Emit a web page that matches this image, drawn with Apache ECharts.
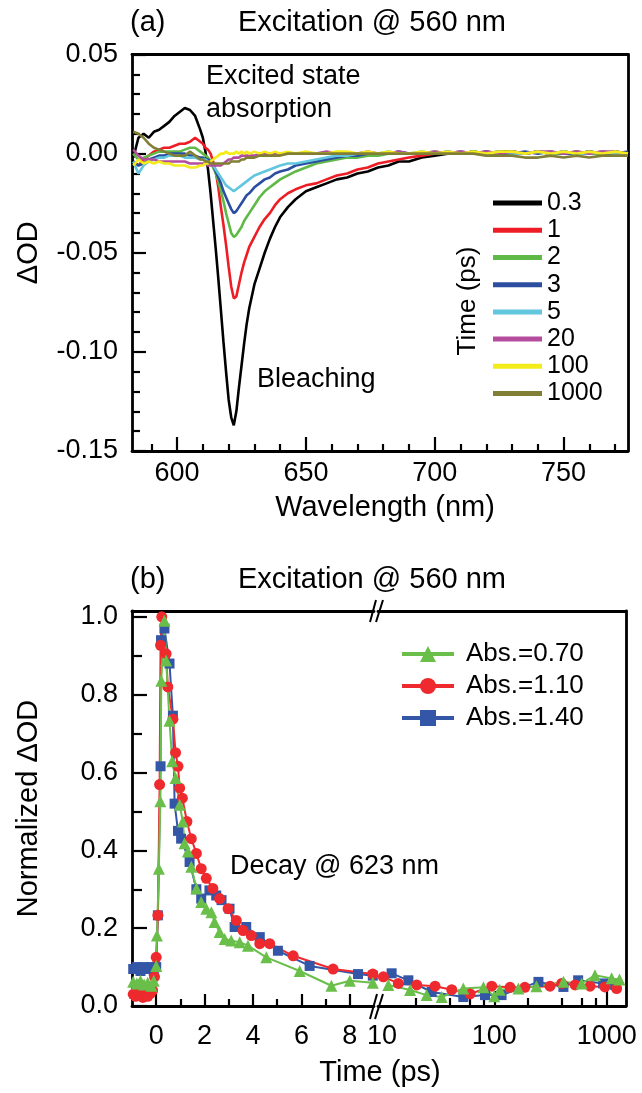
<!DOCTYPE html>
<html><head><meta charset="utf-8">
<script src="https://cdn.jsdelivr.net/npm/echarts@6/dist/echarts.min.js"></script>
<style>html,body{margin:0;padding:0;background:#fff}#c{width:642px;height:1093px}</style>
</head><body><div id="c"></div>
<script>
// ---------------- DATA: panel (a) transient spectra ----------------
const wavelengths = [583,585,587,589,591,593,595,597,599,601,603,605,607,609,
  610,611,612,613,614,615,616,617,618,619,620,621,622,623,624,625,626,627,628,
  630,632,634,636,638,640,643,646,650,654,658,662,666,670,674,678,682,686,690,
  695,700,705,710,715,720,725,730,735,740,745,750,755,760,765,770,775];
const timeLabels = ['0.3','1','2','3','5','20','100','1000'];
const od_0p3 = [-0.002,0.008,0.010,0.008,0.011,0.012,0.014,0.016,0.019,0.021,0.023,0.022,0.019,0.012,
  0.008,0.001,-0.008,-0.020,-0.034,-0.048,-0.063,-0.079,-0.095,-0.110,-0.124,-0.133,-0.137,-0.130,-0.118,-0.107,-0.096,-0.086,-0.078,
  -0.066,-0.058,-0.050,-0.043,-0.037,-0.032,-0.027,-0.023,-0.019,-0.017,-0.015,-0.013,-0.012,-0.010,-0.009,-0.007,-0.006,-0.004,-0.004,
  -0.002,-0.001,0.000,0.000,0.001,0.000,0.001,0.001,0.000,0.001,0.000,0.001,0.000,0.001,0.000,0.001,0.000];
const od_1 = [-0.004,-0.006,-0.003,-0.001,0.001,0.002,0.003,0.003,0.004,0.005,0.005,0.006,0.008,0.006,
  0.005,0.003,0.002,0.000,-0.004,-0.009,-0.017,-0.027,-0.036,-0.046,-0.057,-0.067,-0.073,-0.072,-0.066,-0.060,-0.055,-0.051,-0.047,
  -0.042,-0.037,-0.033,-0.030,-0.026,-0.023,-0.020,-0.018,-0.016,-0.015,-0.013,-0.011,-0.010,-0.008,-0.007,-0.005,-0.004,-0.003,-0.002,
  -0.001,0.000,0.000,0.001,0.000,0.001,0.000,0.001,0.000,0.001,0.000,0.000,0.001,0.000,0.001,0.000,0.000];
const od_2 = [0.000,-0.003,-0.002,-0.001,0.000,0.001,0.001,0.001,0.001,0.001,0.002,0.003,0.003,0.001,
  0.000,-0.001,-0.002,-0.004,-0.007,-0.010,-0.014,-0.019,-0.024,-0.030,-0.035,-0.040,-0.042,-0.041,-0.039,-0.037,-0.034,-0.032,-0.030,
  -0.026,-0.022,-0.019,-0.017,-0.015,-0.013,-0.011,-0.009,-0.007,-0.005,-0.004,-0.003,-0.002,-0.002,-0.001,-0.001,0.000,0.000,0.000,
  0.000,0.001,0.000,0.000,0.001,0.000,0.000,0.001,0.000,0.001,0.000,0.000,0.001,0.000,0.000,0.001,0.000];
const od_3 = [-0.004,-0.006,-0.005,-0.003,-0.002,-0.001,-0.001,0.000,0.000,0.000,0.000,-0.001,-0.001,-0.002,
  -0.002,-0.003,-0.003,-0.004,-0.006,-0.009,-0.012,-0.015,-0.019,-0.022,-0.025,-0.028,-0.030,-0.029,-0.027,-0.025,-0.023,-0.021,-0.020,
  -0.017,-0.015,-0.013,-0.012,-0.010,-0.009,-0.008,-0.006,-0.005,-0.004,-0.003,-0.002,-0.001,-0.001,0.000,0.000,0.000,0.001,0.000,
  0.000,0.000,0.001,0.000,0.000,0.001,0.000,0.000,0.001,0.000,0.001,0.000,0.000,0.001,0.000,0.000,0.001];
const od_5 = [-0.004,-0.010,-0.006,-0.004,-0.003,-0.002,-0.002,-0.001,-0.001,-0.001,-0.002,-0.002,-0.002,-0.003,
  -0.003,-0.003,-0.004,-0.005,-0.006,-0.008,-0.010,-0.012,-0.014,-0.016,-0.017,-0.018,-0.019,-0.018,-0.017,-0.016,-0.015,-0.014,-0.013,
  -0.011,-0.010,-0.009,-0.008,-0.007,-0.006,-0.005,-0.005,-0.004,-0.003,-0.002,-0.001,-0.001,0.000,0.000,0.000,0.001,0.000,0.000,
  0.001,0.000,0.000,0.001,0.000,0.000,0.001,0.000,0.000,0.001,0.000,0.001,0.000,0.000,0.001,0.000,0.000];
const od_20 = [0.002,-0.001,-0.003,-0.003,-0.003,-0.004,-0.004,-0.004,-0.004,-0.004,-0.004,-0.005,-0.005,-0.005,
  -0.005,-0.005,-0.006,-0.006,-0.006,-0.006,-0.006,-0.006,-0.005,-0.004,-0.003,-0.003,-0.002,-0.002,-0.002,-0.001,-0.001,-0.001,-0.001,
  -0.001,0.000,0.000,0.000,0.000,0.000,0.000,0.000,0.000,0.000,0.001,0.000,0.000,0.000,0.001,0.000,0.000,0.001,0.000,
  0.000,0.001,0.000,0.001,0.000,0.001,0.000,0.001,0.000,0.001,0.001,0.000,0.001,0.000,0.001,0.001,0.000];
const od_100 = [-0.006,-0.003,-0.005,-0.004,-0.005,-0.004,-0.005,-0.005,-0.006,-0.006,-0.006,-0.007,-0.007,-0.006,
  -0.006,-0.005,-0.005,-0.004,-0.003,-0.002,-0.001,0.000,0.000,0.001,0.000,0.000,0.000,0.001,0.000,0.001,0.000,0.001,0.000,
  0.001,0.000,0.001,0.000,0.001,0.000,0.001,0.000,0.001,0.000,0.000,0.001,0.001,0.000,0.001,0.000,0.001,0.000,0.000,
  0.001,0.000,0.001,0.000,0.001,0.000,0.001,0.001,0.000,0.001,0.000,0.001,0.000,0.001,0.000,0.001,0.000];
const od_1000 = [0.011,0.010,0.008,0.005,0.003,0.002,0.001,0.000,-0.001,-0.001,-0.001,0.001,-0.001,-0.003,
  -0.003,-0.004,-0.004,-0.005,-0.005,-0.005,-0.005,-0.005,-0.005,-0.005,-0.005,-0.004,-0.004,-0.004,-0.004,-0.003,-0.003,-0.002,-0.002,
  -0.002,-0.001,-0.001,-0.001,-0.001,-0.001,0.000,0.000,0.000,0.000,0.000,0.000,0.000,0.000,0.000,0.000,0.000,0.000,0.000,
  0.000,0.000,0.000,0.000,0.000,-0.001,-0.001,-0.001,-0.002,-0.002,-0.001,-0.002,-0.001,-0.002,-0.001,-0.001,-0.001];
const wlMajorTicks = [600,650,700,750];
const wlMinorTicks = [590,610,620,630,640,660,670,680,690,710,720,730,740,760,770];
const odMajorTicks = [-0.15,-0.10,-0.05,0.00,0.05];
const odMinorTicks = [-0.14,-0.13,-0.12,-0.11,-0.09,-0.08,-0.07,-0.06,-0.04,-0.03,-0.02,-0.01,0.01,0.02,0.03,0.04];

// ---------------- DATA: panel (b) decay at 623 nm ----------------
const absLabels = ['Abs.=0.70','Abs.=1.10','Abs.=1.40'];
const t_070 = [-0.95,-0.8,-0.65,-0.5,-0.35,-0.2,-0.1,0,0.03,0.11,0.17,0.21,0.34,0.41,0.55,0.66,0.8,0.97,1.1,1.17,1.31,1.45,1.66,1.86,2.07,2.28,2.41,2.62,2.83,3.1,3.45,3.79,4.55,5.93,7.24,8.0,8.95,
  11.4,17.8,25,34,53,80,100,112,164,237,412,598,786,1106,1300];
const v_070 = [0.062,0.058,0.065,0.055,0.06,0.052,0.065,0.103,0.181,0.353,0.526,0.836,0.99,0.888,0.733,0.629,0.586,0.517,0.474,0.418,0.397,0.358,0.302,0.267,0.25,0.241,0.216,0.19,0.172,0.168,0.164,0.155,0.125,0.09,0.052,0.065,0.06,
  0.054,0.041,0.028,0.023,0.045,0.048,0.025,0.042,0.045,0.051,0.062,0.058,0.079,0.071,0.068];
const t_110 = [-0.95,-0.85,-0.75,-0.65,-0.55,-0.45,-0.35,-0.25,-0.15,-0.07,0,0.07,0.14,0.18,0.23,0.41,0.48,0.69,0.8,0.9,0.97,1.08,1.27,1.45,1.66,1.86,2.07,2.34,2.62,2.97,3.31,3.59,3.93,4.28,4.69,5.66,7.31,8.95,
  10.3,14,20.4,29.7,41.8,60.9,94.9,138,187,313,398,523,711,964,1225];
const v_110 = [0.03,0.025,0.035,0.028,0.022,0.03,0.025,0.032,0.04,0.075,0.125,0.233,0.569,0.927,1.0,0.905,0.82,0.737,0.651,0.616,0.56,0.534,0.474,0.43,0.392,0.353,0.328,0.302,0.276,0.25,0.22,0.194,0.181,0.16,0.16,0.129,0.095,0.082,
  0.075,0.058,0.054,0.051,0.042,0.031,0.051,0.048,0.048,0.051,0.058,0.054,0.051,0.049,0.045];
const t_140 = [-0.95,-0.8,-0.65,-0.5,-0.35,-0.2,-0.1,0,0.07,0.18,0.2,0.34,0.55,0.69,0.76,0.9,1.03,1.38,1.66,1.86,2.2,2.48,2.7,3.03,3.24,3.72,4.28,5.03,6.34,8.34,8.95,
  12.2,17.2,27.7,53,82.6,116,247,412,557,930,1190];
const v_140 = [0.095,0.1,0.09,0.1,0.095,0.1,0.09,0.1,0.233,0.616,0.94,0.97,0.88,0.746,0.52,0.45,0.43,0.37,0.3,0.276,0.297,0.284,0.272,0.25,0.203,0.203,0.177,0.142,0.103,0.082,0.078,
  0.084,0.066,0.036,0.023,0.028,0.028,0.062,0.049,0.066,0.058,0.054];
const linTimeTicks = [0,2,4,6,8];
const linTimeMinor = [1,3,5,7];
const logTimeLabels = [10,100,1000];
const logTimeMajor = [100,1000];
const logTimeMinor = [20,40,60,80,200,400,600,800];
const normMajor = [0,0.2,0.4,0.6,0.8,1.0];
const normMinor = [0.1,0.3,0.5,0.7,0.9];

// ---------------- CHART ----------------
const F = '"Liberation Sans", Arial, Helvetica, sans-serif';
const BLACK = '#000';
const AXL = {color: BLACK, width: 2.8};
const TICK = {color: BLACK, width: 2.2};
const lab = (extra) => Object.assign({color: BLACK, fontFamily: F, fontSize: 27}, extra || {});
const WL = [582.5, 775];
const OD = [-0.15, 0.05];
const TL = [-1, 9];
const TR = [9.23, 1485];
const NV = [0, 1.015];

function mainAxis(o) {
  return Object.assign({
    type: 'value', axisLine: {show: true, onZero: false, lineStyle: AXL},
    splitLine: {show: false}, minorTick: {show: false}
  }, o);
}
function tickOnly(o, ticks, len) {
  return Object.assign({
    type: 'value', axisLine: {show: false, onZero: false},
    axisTick: {show: true, inside: true, length: len, lineStyle: TICK, customValues: ticks},
    axisLabel: {show: false}, splitLine: {show: false}
  }, o);
}
function frame(o) {
  return Object.assign({
    type: 'value', axisLine: {show: true, onZero: false, lineStyle: AXL},
    axisTick: {show: false}, axisLabel: {show: false}, splitLine: {show: false}
  }, o);
}

const xAxis = [
  mainAxis({gridIndex: 0, min: WL[0], max: WL[1], position: 'bottom',
    axisTick: {show: true, inside: true, length: 14, lineStyle: TICK, customValues: wlMajorTicks},
    axisLabel: lab({customValues: wlMajorTicks, margin: 9}),
    name: 'Wavelength (nm)', nameLocation: 'middle', nameGap: 42,
    nameTextStyle: {color: BLACK, fontFamily: F, fontSize: 29, padding: [0, 0, 0, 10]}}),
  tickOnly({gridIndex: 0, min: WL[0], max: WL[1], position: 'bottom'}, wlMinorTicks, 7),
  frame({gridIndex: 0, min: WL[0], max: WL[1], position: 'top'}),

  mainAxis({gridIndex: 1, min: TL[0], max: TL[1], position: 'bottom',
    axisTick: {show: true, inside: true, length: 12, lineStyle: TICK, customValues: linTimeTicks},
    axisLabel: lab({customValues: linTimeTicks, margin: 17})}),
  tickOnly({gridIndex: 1, min: TL[0], max: TL[1], position: 'bottom'}, linTimeMinor, 7),
  frame({gridIndex: 1, min: TL[0], max: TL[1], position: 'top'}),

  mainAxis({gridIndex: 2, type: 'log', logBase: 10, min: TR[0], max: TR[1], position: 'bottom',
    axisTick: {show: true, inside: true, length: 15, lineStyle: TICK, customValues: logTimeMajor},
    axisLabel: lab({customValues: logTimeLabels, margin: 17, formatter: v => String(Math.round(v))})}),
  Object.assign(tickOnly({gridIndex: 2, min: TR[0], max: TR[1], position: 'bottom'}, logTimeMinor, 8), {type: 'log', logBase: 10}),
  Object.assign(frame({gridIndex: 2, min: TR[0], max: TR[1], position: 'top'}), {type: 'log', logBase: 10})
];

const yAxis = [
  mainAxis({gridIndex: 0, min: OD[0], max: OD[1], position: 'left',
    axisTick: {show: true, inside: true, length: 14, lineStyle: TICK, customValues: odMajorTicks},
    axisLabel: lab({customValues: odMajorTicks, margin: 14, formatter: v => v.toFixed(2)}),
    name: 'ΔOD', nameLocation: 'middle', nameGap: 89,
    nameTextStyle: {color: BLACK, fontFamily: F, fontSize: 29}}),
  tickOnly({gridIndex: 0, min: OD[0], max: OD[1], position: 'left'}, odMinorTicks, 8),
  frame({gridIndex: 0, min: OD[0], max: OD[1], position: 'right'}),

  mainAxis({gridIndex: 1, min: NV[0], max: NV[1], position: 'left',
    axisTick: {show: true, inside: true, length: 15, lineStyle: TICK, customValues: normMajor},
    axisLabel: lab({customValues: normMajor, margin: 14, formatter: v => v.toFixed(1)}),
    name: 'Normalized ΔOD', nameLocation: 'middle', nameGap: 89,
    nameTextStyle: {color: BLACK, fontFamily: F, fontSize: 29}}),
  tickOnly({gridIndex: 1, min: NV[0], max: NV[1], position: 'left'}, normMinor, 10),

  frame({gridIndex: 2, min: NV[0], max: NV[1], position: 'right'})
];

const spectra = [od_0p3, od_1, od_2, od_3, od_5, od_20, od_100, od_1000];
const specColors = ['#000000', '#ee1d25', '#5fb946', '#2c4ea0', '#62c6de', '#b54d9f', '#f4eb1a', '#817f35'];
const series = [];
spectra.forEach((vals, k) => {
  series.push({
    type: 'line', name: timeLabels[k], xAxisIndex: 0, yAxisIndex: 0,
    data: wavelengths.map((w, i) => [w, vals[i]]),
    symbol: 'none', silent: true,
    lineStyle: {width: 2.6, color: specColors[k]}, itemStyle: {color: specColors[k]}
  });
});

const decays = [
  {name: absLabels[2], t: t_140, v: v_140, color: '#3456a6', symbol: 'rect', size: 10},
  {name: absLabels[1], t: t_110, v: v_110, color: '#ee2a2e', symbol: 'circle', size: 11},
  {name: absLabels[0], t: t_070, v: v_070, color: '#6abf4b', symbol: 'triangle', size: 12}
];
decays.forEach(d => {
  const pts = d.t.map((t, i) => [t, d.v[i]]);
  const common = {
    type: 'line', name: d.name, symbol: d.symbol, symbolSize: d.size, silent: true,
    lineStyle: {width: 2, color: d.color}, itemStyle: {color: d.color}
  };
  series.push(Object.assign({}, common, {xAxisIndex: 3, yAxisIndex: 3, data: pts.filter(p => p[0] < 9.5)}));
  series.push(Object.assign({}, common, {xAxisIndex: 6, yAxisIndex: 5, data: pts.filter(p => p[0] > 9.5)}));
});

const txt = (x, y, text, size, extra) => Object.assign({
  type: 'text', x: x, y: y, silent: true,
  style: {text: text, fill: BLACK, fontFamily: F, fontSize: size, align: 'left', verticalAlign: 'middle'}
}, extra || {});
const brk = (x1, y1, x2, y2) => ({type: 'line', silent: true, shape: {x1, y1, x2, y2}, style: {stroke: BLACK, lineWidth: 2}});

const titleStyle = {color: BLACK, fontFamily: F, fontSize: 29, fontWeight: 'normal'};
const option = {
  animation: false,
  backgroundColor: '#fff',
  title: [
    {text: '(a)', left: 130, top: 8, textStyle: titleStyle, padding: 0},
    {text: 'Excitation @ 560 nm', left: 238, top: 8, textStyle: titleStyle, padding: 0},
    {text: '(b)', left: 130, top: 565, textStyle: titleStyle, padding: 0},
    {text: 'Excitation @ 560 nm', left: 238, top: 565, textStyle: titleStyle, padding: 0}
  ],
  grid: [
    {left: 132, top: 54.5, width: 496, height: 396.5},
    {left: 132, top: 611, width: 242, height: 395},
    {left: 378, top: 611, width: 248, height: 395}
  ],
  xAxis: xAxis,
  yAxis: yAxis,
  legend: [
    {data: timeLabels, orient: 'vertical', left: 493, top: 189.5, icon: 'rect',
     itemWidth: 49, itemHeight: 5, itemGap: 0, selectedMode: false, padding: 0,
     textStyle: {color: BLACK, fontFamily: F, fontSize: 25, lineHeight: 27.2}},
    {data: absLabels, orient: 'vertical', left: 400, top: 638,
     itemWidth: 52, itemHeight: 20, itemGap: 0, selectedMode: false, padding: 0,
     lineStyle: {width: 4},
     textStyle: {color: BLACK, fontFamily: F, fontSize: 26, lineHeight: 32, padding: [0, 0, 0, 7]}}
  ],
  graphic: [
    txt(206, 77, 'Excited state', 27),
    txt(206, 110, 'absorption', 27),
    txt(257, 380, 'Bleaching', 27),
    txt(468, 301, 'Time (ps)', 26, {rotation: Math.PI / 2, style: {text: 'Time (ps)', fill: BLACK, fontFamily: F, fontSize: 26, align: 'center', verticalAlign: 'middle'}}),
    txt(230, 867, 'Decay @ 623 nm', 27),
    txt(380, 1073, 'Time (ps)', 29, {style: {text: 'Time (ps)', fill: BLACK, fontFamily: F, fontSize: 29, align: 'center', verticalAlign: 'middle'}}),
    brk(370, 622, 376, 600), brk(376, 622, 383, 600),
    brk(370, 1019, 377, 994), brk(375, 1019, 383, 994)
  ],
  series: series
};
const chart = echarts.init(document.getElementById('c'), null, {renderer: 'canvas'});
chart.setOption(option);
</script></body></html>
